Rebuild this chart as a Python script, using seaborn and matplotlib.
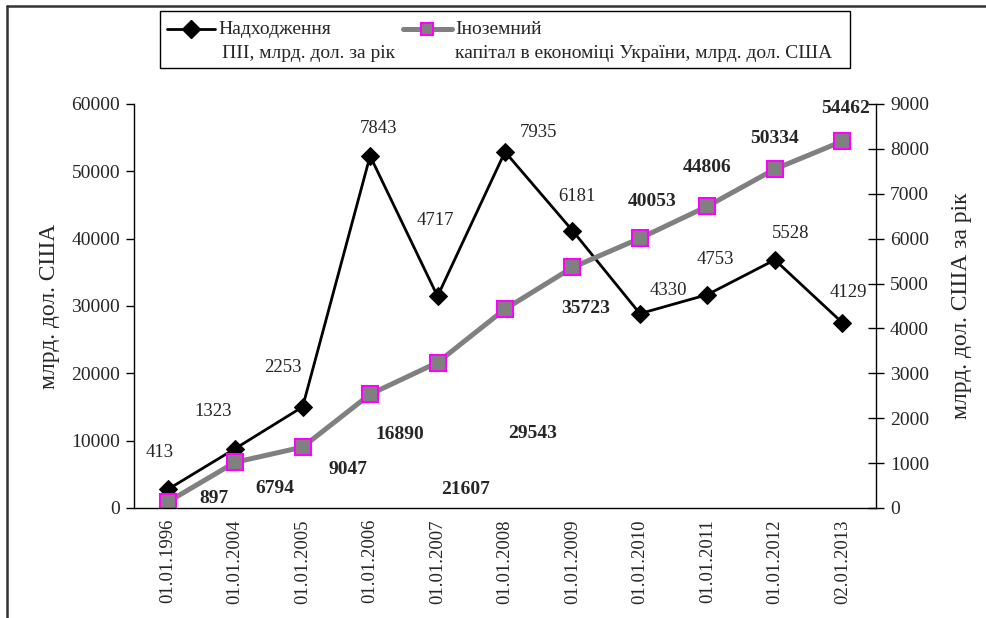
import matplotlib
matplotlib.use("Agg")
import matplotlib.pyplot as plt
import seaborn as sns
from matplotlib.lines import Line2D
from matplotlib.patches import Rectangle


DATES = [
    "01.01.1996", "01.01.2004", "01.01.2005", "01.01.2006", "01.01.2007",
    "01.01.2008", "01.01.2009", "01.01.2010", "01.01.2011", "01.01.2012",
    "02.01.2013",
]
FDI_INFLOW = [413, 1323, 2253, 7843, 4717, 7935, 6181, 4330, 4753, 5528, 4129]
FOREIGN_CAPITAL = [897, 6794, 9047, 16890, 21607, 29543, 35723, 40053, 44806, 50334, 54462]

LEGEND_FDI = ["Надходження", "ПІІ, млрд. дол. за рік"]
LEGEND_CAPITAL = ["Іноземний", "капітал в економіці України, млрд. дол. США"]
LEFT_LABEL = "млрд. дол. США"
RIGHT_LABEL = "млрд. дол. США за рік"

# label offsets in pixels (dx, dy with y pointing down), as placed in the original
FDI_OFFSETS = [(-8, -37), (-22, -37), (-20, -39), (8, -27), (-2, -76), (34, -19),
               (4, -34), (28, -23), (8, -35), (16, -26), (6, -30)]
CAPITAL_OFFSETS = [(46, -3), (40, 26), (45, 22), (30, 40), (28, 127), (28, 124),
                   (13, 41), (12, -37), (0, -39), (0, -31), (3, -33)]

W, H = 986, 618
FS = 13.5


def fx(px):
    return px / W


def fy(py):
    return 1 - py / H


sns.set_style("white")
plt.rcParams["font.family"] = ["Liberation Serif", "DejaVu Serif"]

fig = plt.figure(figsize=(9.86, 6.18), dpi=100)
ax = fig.add_axes([fx(134), fy(508), fx(876) - fx(134), fy(104) - fy(508)])
ax2 = ax.twinx()
ax.set_zorder(ax2.get_zorder() + 1)
ax.patch.set_visible(False)

pos = list(range(len(DATES)))

sns.lineplot(x=pos, y=FDI_INFLOW, ax=ax2, color="black", linewidth=2,
             marker="D", markersize=9, markerfacecolor="black",
             markeredgecolor="black", sort=False)
sns.lineplot(x=pos, y=FOREIGN_CAPITAL, ax=ax, color="#808080", linewidth=3.6,
             marker="s", markersize=12, markerfacecolor="#808080",
             markeredgecolor="#FF00FF", markeredgewidth=1.5, sort=False)

for i, v in enumerate(FDI_INFLOW):
    dx, dy = FDI_OFFSETS[i]
    ax2.annotate(str(v), (i, v), xytext=(dx, -dy), textcoords="offset pixels",
                 ha="center", va="center", fontsize=FS)
for i, v in enumerate(FOREIGN_CAPITAL):
    dx, dy = CAPITAL_OFFSETS[i]
    ax.annotate(str(v), (i, v), xytext=(dx, -dy), textcoords="offset pixels",
                ha="center", va="center", fontsize=14, fontweight="bold")

ax.set_xlim(-0.5, len(DATES) - 0.5)
ax.set_ylim(0, 60000)
ax2.set_ylim(0, 9000)
ax.set_yticks(range(0, 60001, 10000))
ax2.set_yticks(range(0, 9001, 1000))

ax.set_xticks(pos)
ax.set_xticklabels(DATES, rotation=90, fontsize=FS)
ax.set_xticks([p - 0.5 for p in pos] + [pos[-1] + 0.5], minor=True)
ax.tick_params(axis="x", which="major", length=0, pad=8)
ax.tick_params(axis="x", which="minor", length=6, width=1, direction="out", color="black")
ax.tick_params(axis="y", length=6, width=1, direction="out", color="black",
               labelsize=14, pad=4)
ax2.tick_params(axis="y", length=12, width=1, direction="inout", color="black",
                labelsize=14, pad=4)

for name, sp in ax.spines.items():
    sp.set_visible(name in ("left", "bottom"))
    sp.set_color("black")
    sp.set_linewidth(1)
for name, sp in ax2.spines.items():
    sp.set_visible(name == "right")
    sp.set_color("black")
    sp.set_linewidth(1)

ax.set_ylabel(LEFT_LABEL, fontsize=17, labelpad=8)
ax2.set_ylabel(RIGHT_LABEL, fontsize=17, labelpad=16)
ax.grid(False)
ax2.grid(False)

# outer frame (left and top edges only)
fig.add_artist(Line2D([fx(7), fx(7)], [0, fy(6)], color="#333333", lw=1.8,
                      transform=fig.transFigure))
fig.add_artist(Line2D([fx(7), 1], [fy(6), fy(6)], color="#333333", lw=1.8,
                      transform=fig.transFigure))

# legend box
fig.add_artist(Rectangle((fx(160), fy(68)), fx(850) - fx(160), fy(11) - fy(68),
                         fill=False, edgecolor="black", lw=1,
                         transform=fig.transFigure))
ly1, ly2 = fy(29), fy(54)
fig.add_artist(Line2D([fx(167), fx(215)], [ly1, ly1], color="black", lw=2,
                      transform=fig.transFigure))
fig.add_artist(Line2D([fx(191)], [ly1], marker="D", markersize=9, color="black",
                      transform=fig.transFigure))
fig.text(fx(218), ly1, LEGEND_FDI[0], va="center", fontsize=14)
fig.text(fx(222), ly2, LEGEND_FDI[1], va="center", fontsize=14)
fig.add_artist(Line2D([fx(403), fx(452)], [ly1, ly1], color="#808080", lw=3.6,
                      transform=fig.transFigure))
fig.add_artist(Line2D([fx(427)], [ly1], marker="s", markersize=9,
                      markerfacecolor="#808080", markeredgecolor="#FF00FF",
                      markeredgewidth=1.5, transform=fig.transFigure))
fig.text(fx(455), ly1, LEGEND_CAPITAL[0], va="center", fontsize=14)
fig.text(fx(455), ly2, LEGEND_CAPITAL[1], va="center", fontsize=14)

fig.savefig("out.png", dpi=100)
